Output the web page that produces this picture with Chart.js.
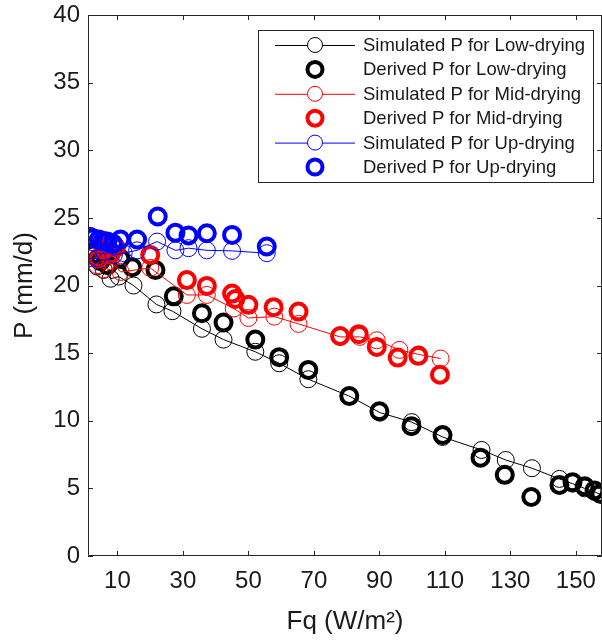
<!DOCTYPE html>
<html><head><meta charset="utf-8">
<script src="https://cdn.jsdelivr.net/npm/chart.js@4/dist/chart.umd.min.js"></script>
<style>html,body{margin:0;padding:0;background:#fff;overflow:hidden}</style>
</head><body>
<canvas id="c" width="602" height="643"></canvas>
<script>
// ---- data ----
const xTickValues = [10, 30, 50, 70, 90, 110, 130, 150];
const seriesLabels = ["Simulated P for Low-drying", "Derived P for Low-drying", "Simulated P for Mid-drying", "Derived P for Mid-drying", "Simulated P for Up-drying", "Derived P for Up-drying"];

const lowSimX = [3.8, 5.8, 7.9, 10.4, 14.9, 21.9, 26.8, 35.8, 42.4, 52.1, 59.4, 68.3, 81.0, 90.2, 99.9, 109.3, 121.2, 128.6, 136.6, 145, 149, 152.7, 155.7, 157.5];
const lowSimY = [21.4, 21.15, 20.5, 20.66, 20.0, 18.6, 18.1, 16.8, 16.0, 15.1, 14.25, 13.07, 11.8, 10.6, 9.9, 8.8, 7.84, 7.1, 6.49, 5.7, 5.35, 5.0, 4.75, 4.55];
const lowDerX = [2.5, 4.8, 7.0, 10.9, 14.5, 21.6, 27.2, 35.8, 42.4, 52.1, 59.4, 68.3, 80.8, 90.0, 99.8, 109.3, 120.9, 128.3, 136.4, 145, 149, 152.7, 155.7, 157.5];
const lowDerY = [22.3, 21.8, 21.5, 22.0, 21.35, 21.15, 19.2, 17.95, 17.26, 16.0, 14.7, 13.76, 11.83, 10.7, 9.6, 8.95, 7.27, 6.0, 4.36, 5.25, 5.45, 5.15, 4.85, 4.6];

const midSimX = [3.8, 5.8, 7.9, 11, 20, 31.2, 37.3, 45.5, 50, 57.9, 65.3, 78, 84, 89.2, 96.1, 102, 108.7];
const midSimY = [21.5, 21.2, 21.8, 21.0, 21.3, 19.3, 19.3, 18.3, 17.6, 17.7, 17.16, 16.2, 16.2, 15.95, 15.24, 14.9, 14.6];
const midDerX = [4.0, 5.8, 6.9, 7.9, 9.5, 20, 31.2, 37.3, 45, 46, 50, 57.7, 65.3, 78, 83.7, 89.2, 95.6, 101.9, 108.5];
const midDerY = [22.0, 22.6, 23.0, 22.3, 22.8, 22.26, 20.4, 19.97, 19.4, 19.0, 18.57, 18.4, 18.07, 16.27, 16.4, 15.46, 14.67, 14.8, 13.4];

const upSimX = [1.25, 3.8, 6.0, 8.9, 11.9, 16, 22.1, 27.7, 31.7, 37.3, 45, 55.6];
const upSimY = [22.0, 22.0, 22.5, 22.26, 22.4, 22.6, 23.25, 22.6, 22.76, 22.6, 22.56, 22.39];
const upDerX = [1.5, 2.5, 4.3, 5.5, 6.9, 8.6, 10.9, 16, 22.3, 27.7, 31.7, 37.3, 45, 55.6];
const upDerY = [23.6, 23.5, 23.4, 23.3, 23.25, 23.1, 23.4, 23.4, 25.1, 23.9, 23.7, 23.86, 23.74, 22.88];

const colors = ["#000000", "#000000", "#ff0000", "#ff0000", "#0000ff", "#0000ff"];
// ---------------------------------------

const pts = (xs, ys) => xs.map((x, i) => ({x, y: ys[i]}));
const allX = [lowSimX, lowDerX, midSimX, midDerX, upSimX, upDerX];
const allY = [lowSimY, lowDerY, midSimY, midDerY, upSimY, upDerY];

const datasets = allX.map((xs, i) => {
  const sim = i % 2 === 0;
  return {
    label: seriesLabels[i],
    data: pts(xs, allY[i]),
    showLine: sim,
    borderColor: colors[i],
    backgroundColor: 'rgba(0,0,0,0)',
    pointBackgroundColor: 'rgba(0,0,0,0)',
    pointBorderColor: colors[i],
    pointRadius: sim ? 8.5 : 8,
    pointBorderWidth: sim ? 1 : 4,
    borderWidth: 1,
    pointHoverRadius: 0,
    order: 6 - i
  };
});

const FONT = "'Liberation Sans', Arial, sans-serif";

const framePlugin = {
  id: 'frame',
  afterDraw(chart) {
    const {ctx, chartArea: a, scales: {x, y}} = chart;
    ctx.save();
    ctx.strokeStyle = '#262626';
    ctx.lineWidth = 1;
    ctx.beginPath();
    ctx.rect(a.left + 0.5, a.top + 0.5, a.right - a.left - 1, a.bottom - a.top - 1);
    ctx.stroke();
    const tl = 5;
    ctx.beginPath();
    xTickValues.forEach(v => {
      const px = Math.round(x.getPixelForValue(v)) + 0.5;
      ctx.moveTo(px, a.bottom); ctx.lineTo(px, a.bottom - tl);
      ctx.moveTo(px, a.top); ctx.lineTo(px, a.top + tl);
    });
    y.ticks.forEach(t => {
      const py = Math.round(y.getPixelForValue(t.value)) + 0.5;
      ctx.moveTo(a.left, py); ctx.lineTo(a.left + tl, py);
      ctx.moveTo(a.right, py); ctx.lineTo(a.right - tl, py);
    });
    ctx.stroke();

    // legend
    const L = 258.5, T = 30.5, W = 335, H = 152;
    ctx.fillStyle = '#fff';
    ctx.fillRect(L, T, W, H);
    ctx.strokeStyle = '#262626';
    ctx.strokeRect(L, T, W, H);
    ctx.font = '18.5px ' + FONT;
    ctx.textBaseline = 'middle';
    chart.data.datasets.forEach((ds, i) => {
      const cy = 45 + i * 24.4;
      const sim = i % 2 === 0;
      ctx.strokeStyle = ds.borderColor;
      if (sim) {
        ctx.lineWidth = 1;
        ctx.beginPath(); ctx.moveTo(275, cy + 0.5); ctx.lineTo(355, cy + 0.5); ctx.stroke();
        ctx.fillStyle = '#fff';
        ctx.beginPath(); ctx.arc(315, cy, 7.5, 0, Math.PI * 2); ctx.fill(); ctx.stroke();
      } else {
        ctx.lineWidth = 4;
        ctx.beginPath(); ctx.arc(315, cy, 7.5, 0, Math.PI * 2); ctx.stroke();
      }
      ctx.fillStyle = '#1a1a1a';
      ctx.fillText(ds.label, 363, cy + 1);
    });
    ctx.restore();
  }
};

new Chart(document.getElementById('c'), {
  type: 'scatter',
  data: {datasets},
  options: {
    responsive: false,
    animation: false,
    devicePixelRatio: 1,
    layout: {autoPadding: false, padding: {top: 15, right: 0, left: 0, bottom: 0}},
    plugins: {legend: {display: false}, tooltip: {enabled: false}},
    scales: {
      x: {
        type: 'linear', min: 1, max: 158,
        afterBuildTicks: s => { s.ticks = xTickValues.map(v => ({value: v})); },
        afterFit: s => { s.height = 87; s.paddingLeft = 0; s.paddingRight = 0; },
        grid: {display: false, drawTicks: false},
        border: {display: false},
        ticks: {color: '#1a1a1a', font: {family: FONT, size: 24}, padding: 11, maxRotation: 0, autoSkip: false},
        title: {display: true, text: 'Fq (W/m²)', color: '#1a1a1a', font: {family: FONT, size: 26}, padding: {top: 0, bottom: 6}}
      },
      y: {
        type: 'linear', min: 0, max: 40,
        afterFit: s => { s.width = 88; s.paddingTop = 0; s.paddingBottom = 0; },
        grid: {display: false, drawTicks: false},
        border: {display: false},
        ticks: {stepSize: 5, color: '#1a1a1a', font: {family: FONT, size: 24}, padding: 8},
        title: {display: true, text: 'P (mm/d)', color: '#1a1a1a', font: {family: FONT, size: 26}, padding: {top: 9, bottom: 0}}
      }
    }
  },
  plugins: [framePlugin]
});
</script>
</body></html>
